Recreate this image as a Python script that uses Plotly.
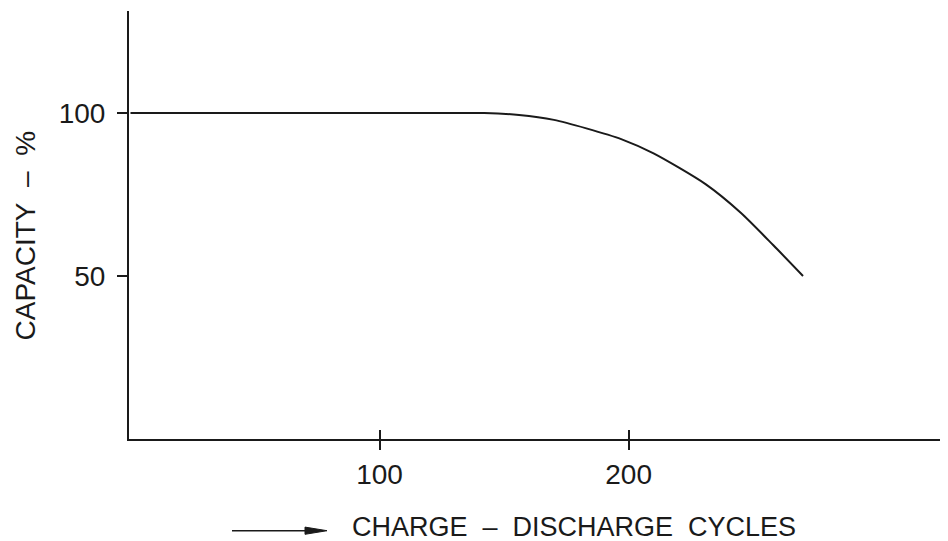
import plotly.graph_objects as go

cycles = [0, 120, 142, 156, 170, 183, 197, 210, 231, 245, 258, 270]
capacity = [100, 100, 100, 99.4, 97.9, 95.3, 92.0, 87.6, 78.1, 69.4, 59.5, 50.0]

x_ticks = [100, 200]
x_tick_labels = ["100", "200"]
y_ticks = [50, 100]
y_tick_labels = ["50", "100"]

x_title = "CHARGE\u00a0\u00a0\u2013\u00a0\u00a0DISCHARGE\u00a0\u00a0CYCLES"
y_title = "CAPACITY\u00a0\u00a0\u2013\u00a0\u00a0%"

FONT = "Liberation Sans"
INK = "#1a1a1a"
FS = 28

# page has an 8px body margin; figure placed at (8, 8)
OFF = 8
L, T = 129 - OFF, 11 - OFF
PW, PH = 816, 428
W, H = 948 - OFF, 541 - OFF


def px(xp):
    return (xp - 129) / PW


def py(yp):
    return (439 - yp) / PH


fig = go.Figure()
fig.add_trace(go.Scatter(
    x=cycles, y=capacity, mode="lines",
    line=dict(color=INK, width=2, shape="spline", smoothing=0.7),
    hoverinfo="skip", showlegend=False,
))
fig.add_trace(go.Scatter(x=[None], y=[None], xaxis="x2", showlegend=False, hoverinfo="skip"))

# arrow before the x-axis title (decoration)
ay_ = 530.7
arrow_line = dict(type="line", xref="paper", yref="paper",
                  x0=px(232), x1=px(312), y0=py(ay_), y1=py(ay_),
                  line=dict(color=INK, width=1.5))
head_path = "M {:.5f},{:.5f} L {:.5f},{:.5f} L {:.5f},{:.5f} Z".format(
    px(305), py(ay_ - 3.6), px(327), py(ay_), px(305), py(ay_ + 3.6))
arrow_head = dict(type="path", xref="paper", yref="paper", path=head_path,
                  fillcolor=INK, line=dict(color=INK, width=1))

fig.update_layout(
    width=W, height=H,
    margin=dict(l=L, r=W - L - PW, t=T, b=H - T - PH, autoexpand=False),
    paper_bgcolor="white", plot_bgcolor="white",
    font=dict(family=FONT, size=FS, color=INK),
    xaxis=dict(
        range=[-0.6, 327], showgrid=False, zeroline=False,
        showline=True, linecolor=INK, linewidth=2,
        tickmode="array", tickvals=x_ticks, ticktext=x_tick_labels,
        ticks="outside", ticklen=9, tickwidth=1.5, tickcolor=INK,
        tickfont=dict(family=FONT, size=FS, color=INK),
    ),
    xaxis2=dict(
        range=[-0.6, 327], overlaying="x", side="bottom", showgrid=False,
        zeroline=False, showline=False, showticklabels=False,
        tickmode="array", tickvals=x_ticks,
        ticks="inside", ticklen=9, tickwidth=1.5, tickcolor=INK,
    ),
    yaxis=dict(
        range=[0, 131.3], showgrid=False, zeroline=False,
        showline=True, linecolor=INK, linewidth=2,
        tickmode="array", tickvals=y_ticks, ticktext=y_tick_labels,
        ticks="outside", ticklen=10, tickwidth=1.5, tickcolor=INK,
        tickfont=dict(family=FONT, size=FS, color=INK),
        ticklabelstandoff=6,
    ),
    shapes=[arrow_line, arrow_head],
    annotations=[
        dict(text=x_title, xref="paper", yref="paper",
             x=px(573.5), y=py(526.5),
             xanchor="center", yanchor="middle", showarrow=False,
             font=dict(family=FONT, size=27, color=INK)),
        dict(text=y_title, xref="paper", yref="paper",
             x=px(25), y=py(235.5), textangle=-90,
             xanchor="center", yanchor="middle", showarrow=False,
             font=dict(family=FONT, size=FS, color=INK)),
    ],
)

fig.write_html("out.html")
